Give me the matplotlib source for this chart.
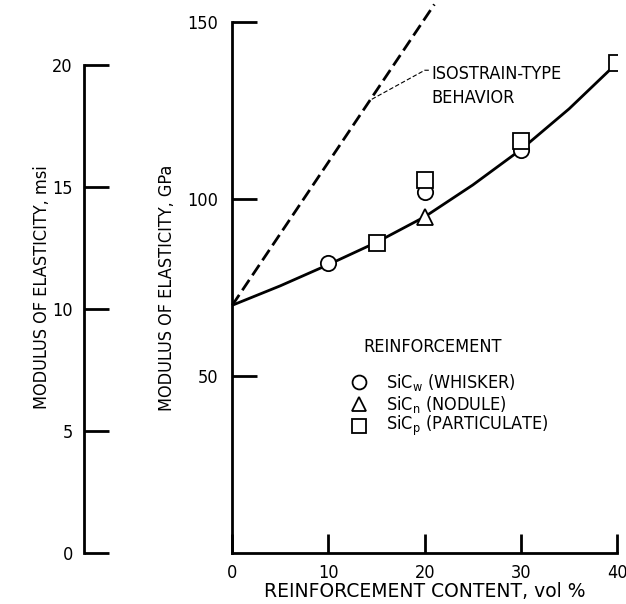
import numpy as np
import matplotlib.pyplot as plt

plt.rcParams['font.family'] = ['DejaVu Sans']
plt.rcParams['font.stretch'] = 'condensed'

# data (GPa vs vol %)
whisker_x = [10, 20, 30]
whisker_y = [82, 102, 114]
nodule_x = [20]
nodule_y = [95]
partic_x = [15, 20, 30, 40]
partic_y = [87.5, 105.5, 116.5, 138.5]

fit_x = [0, 5, 10, 15, 20, 25, 30, 35, 40]
fit_y = [70, 75.5, 81.5, 87.8, 95, 104, 114, 125.5, 138.5]

iso_x = [0, 21]
iso_y = [70, 155]

GPA_PER_MSI = 6.895

fig = plt.figure(figsize=(6.26, 6.04), dpi=100)
ax = fig.add_axes([0.371, 0.0844, 0.615, 0.879])
ax2 = fig.add_axes([0.134, 0.0844, 0.001, 0.879])

fs = 13
lw = 2.0

ax.plot(fit_x, fit_y, color='black', lw=lw, zorder=2)
ax.plot(iso_x, iso_y, color='black', lw=lw, ls=(0, (4.5, 2)), clip_on=False, zorder=2)

ms = 11
ax.plot(whisker_x, whisker_y, 'o', ms=ms, mfc='white', mec='black', mew=1.3, zorder=3)
ax.plot(nodule_x, nodule_y, '^', ms=ms, mfc='white', mec='black', mew=1.3, zorder=3)
ax.plot(partic_x, partic_y, 's', ms=ms, mfc='white', mec='black', mew=1.3, zorder=4)

# leader line for annotation
ax.plot([14.5, 20.0, 20.6], [128.2, 136.4, 136.4], color='black', lw=0.8, ls=(0, (4, 2)))
ax.text(20.7, 132.0, 'ISOSTRAIN-TYPE\nBEHAVIOR', fontsize=fs, va='center', ha='left', linespacing=1.45)

# legend
ax.text(20.8, 58.3, 'REINFORCEMENT', fontsize=fs, ha='center', va='center')
lx, tx = 13.2, 16.0
rows = [('o', 'SiC$_\\mathregular{w}$ (WHISKER)', 48.2),
        ('^', 'SiC$_\\mathregular{n}$ (NODULE)', 42.0),
        ('s', 'SiC$_\\mathregular{p}$ (PARTICULATE)', 35.9)]
for m, lab, yy in rows:
    ax.plot([lx], [yy], m, ms=10, mfc='white', mec='black', mew=1.3)
    ax.text(tx, yy, lab, fontsize=fs, ha='left', va='center')

ax.set_xlim(0, 40)
ax.set_ylim(0, 150)
for s in ['top', 'right']:
    ax.spines[s].set_visible(False)
for s in ['left', 'bottom']:
    ax.spines[s].set_linewidth(lw)
ax.set_xticks([0, 10, 20, 30, 40])
ax.set_yticks([50, 100, 150])
ax.tick_params(direction='in', width=lw, labelsize=fs)
ax.tick_params(axis='x', length=14, pad=8)
ax.tick_params(axis='y', length=18, pad=10)
ax.set_xlabel('REINFORCEMENT CONTENT, vol %', fontsize=13.5, labelpad=0, fontstretch='normal')
ax.set_ylabel('MODULUS OF ELASTICITY, GPa', fontsize=fs, labelpad=8)

ax2.set_ylim(0, 150 / GPA_PER_MSI)
ax2.set_xticks([])
ax2.set_yticks([0, 5, 10, 15, 20])
for s in ['top', 'right', 'bottom']:
    ax2.spines[s].set_visible(False)
ax2.spines['left'].set_linewidth(lw)
ax2.patch.set_visible(False)
ax2.tick_params(axis='y', direction='in', length=18, width=lw, labelsize=fs, pad=8)
ax2.set_ylabel('MODULUS OF ELASTICITY, msi', fontsize=fs, labelpad=1)
ax2.spines['left'].set_bounds(0, 20)

fig.savefig('out.png', dpi=100)
